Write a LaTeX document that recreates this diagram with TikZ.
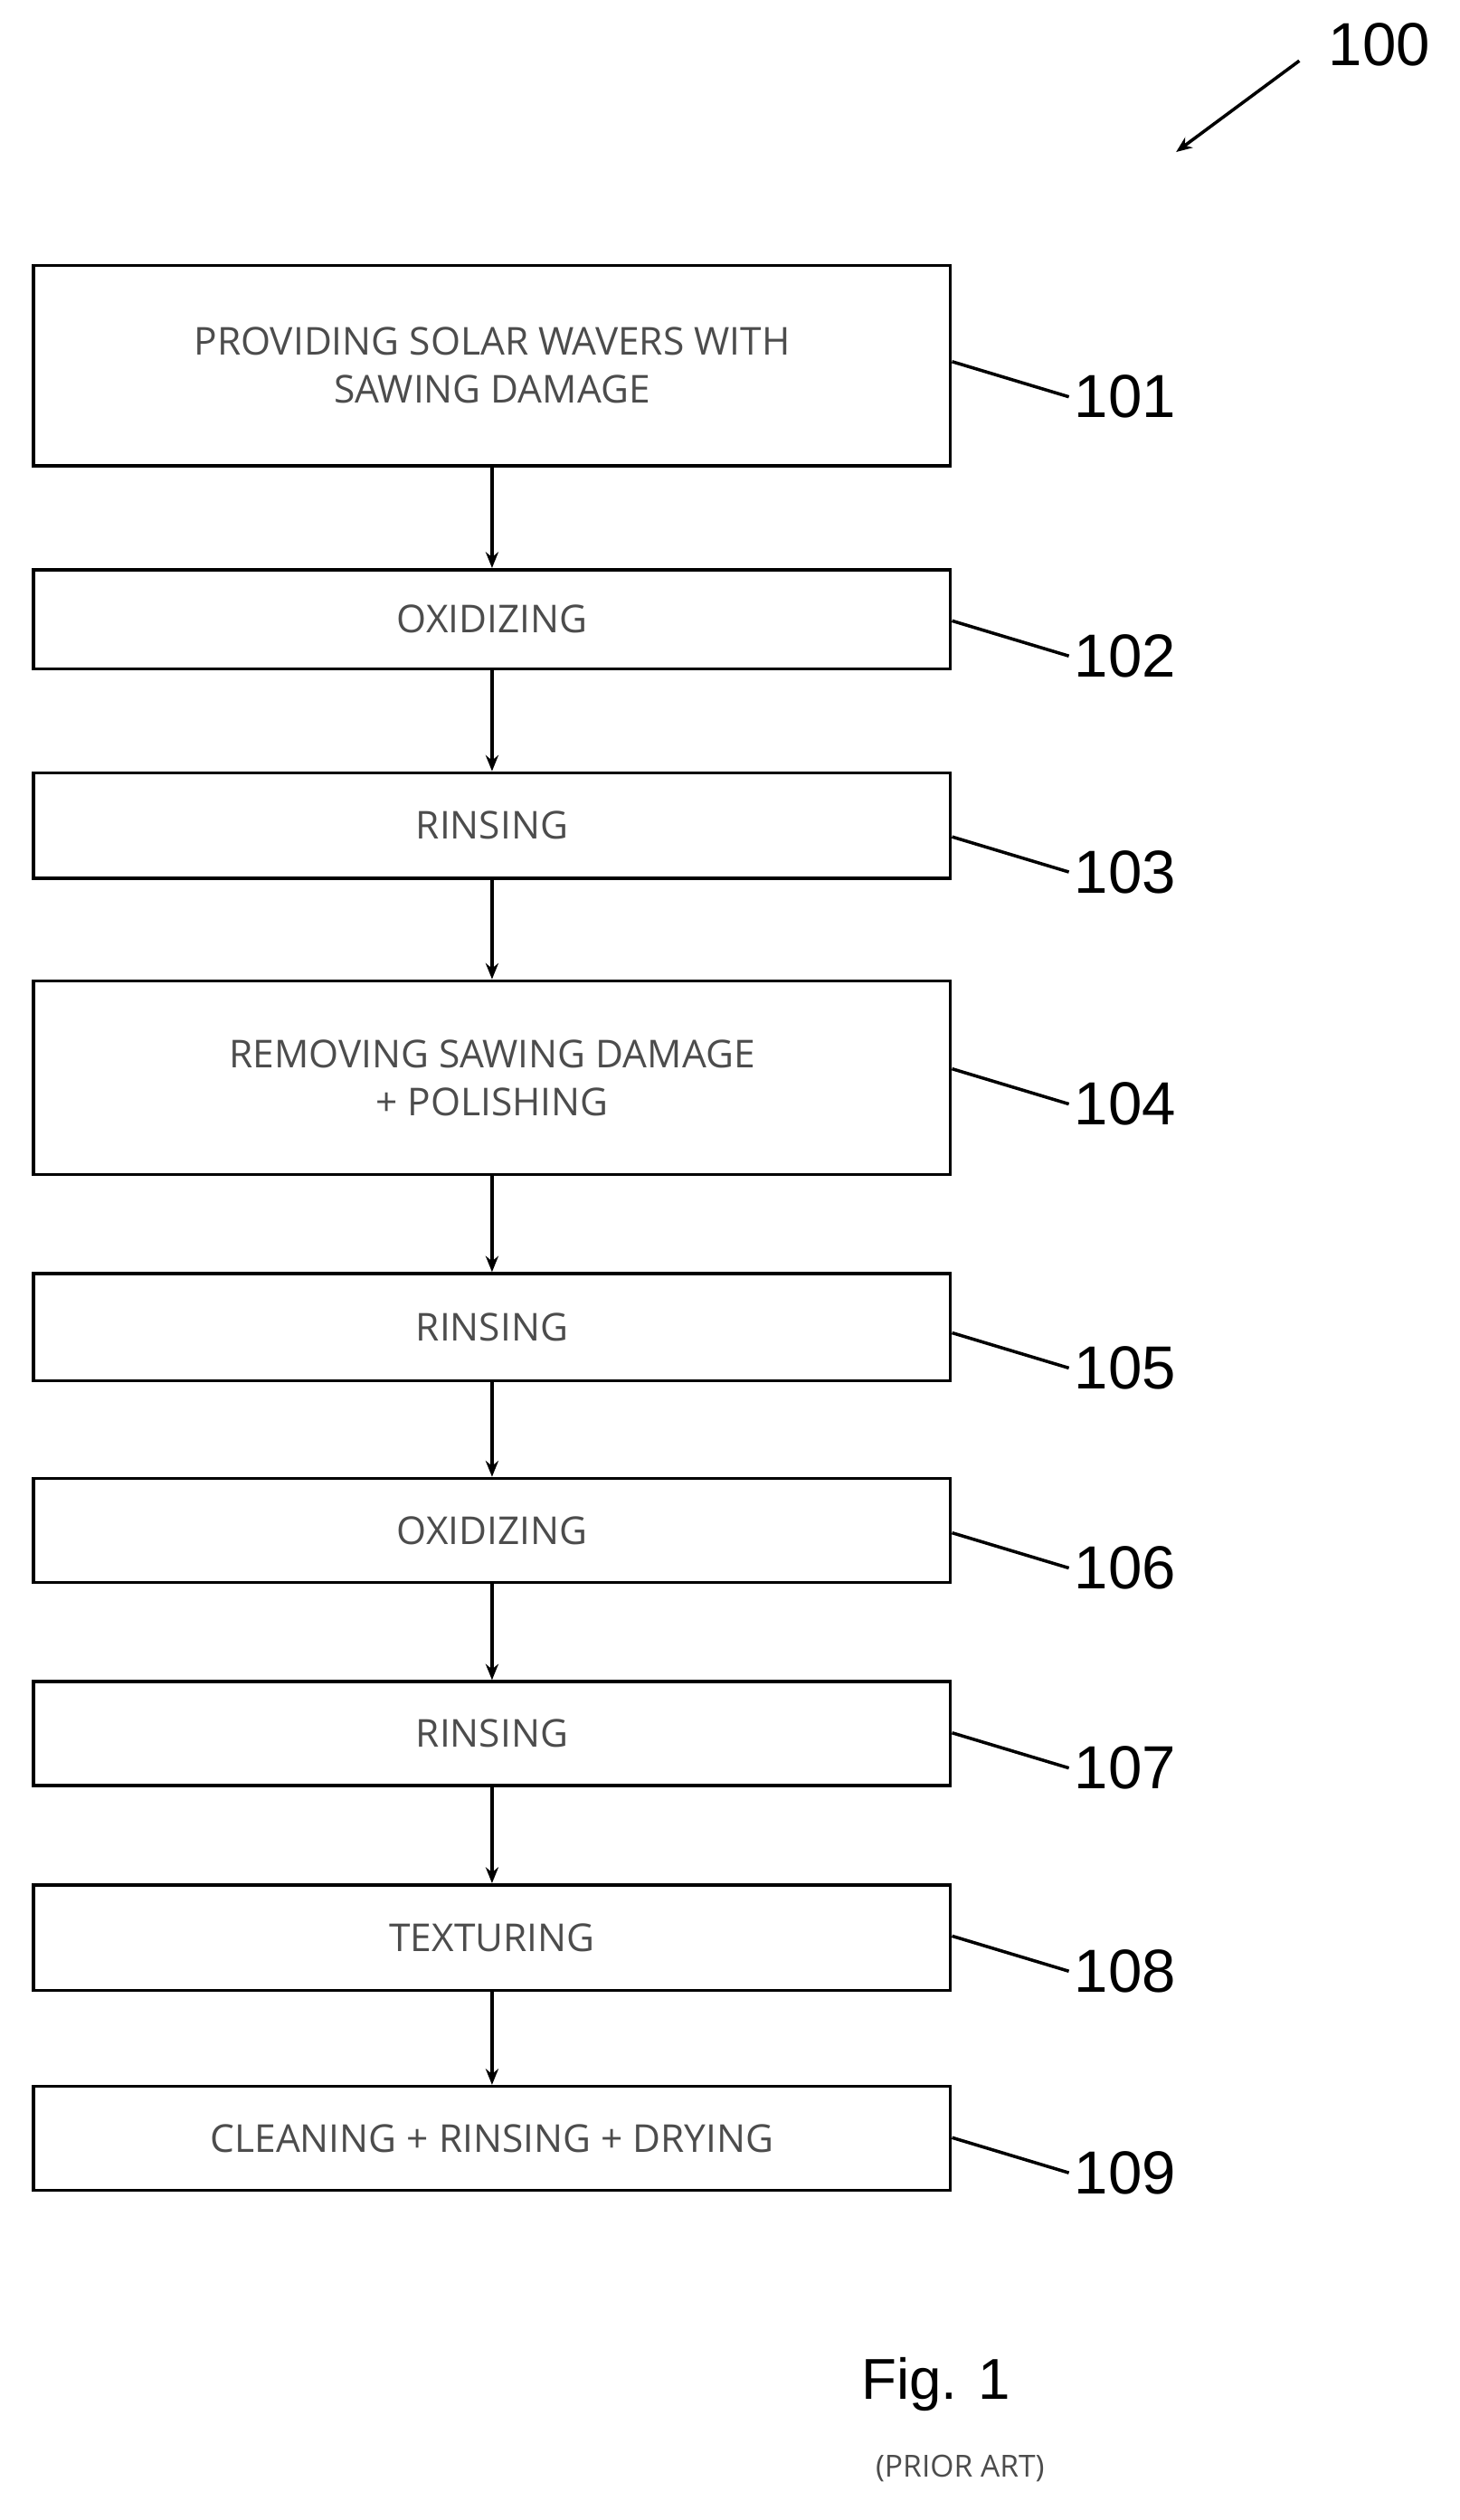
\documentclass[tikz,border=0pt]{standalone}
\usepackage{fontspec}
\setmainfont{Liberation Sans}
\newfontfamily\boxfont{Open Sans}
\usetikzlibrary{arrows.meta}
\begin{document}
\begin{tikzpicture}[x=1pt,y=-1pt,
 box/.style={draw,line width=2pt,minimum width=573pt,anchor=north west,inner sep=0pt,align=center,font=\boxfont\fontsize{24}{30}\selectfont,text=black!70},
 lab/.style={font=\fontsize{38}{40}\selectfont,anchor=west},
 ld/.style={line width=2pt},
 ar/.style={line width=2pt,-{Stealth[length=10pt,width=8pt]}}]
\useasboundingbox (0,0) rectangle (912,1575);
\node[box,minimum height=125pt] (b1) at (20,165) {PROVIDING SOLAR WAVERS WITH\\SAWING DAMAGE};
\node[box,minimum height=62pt] (b2) at (20,355) {OXIDIZING};
\node[box,minimum height=66pt] (b3) at (20,482) {RINSING};
\node[box,minimum height=121pt] (b4) at (20,612) {REMOVING SAWING DAMAGE\\+ POLISHING};
\node[box,minimum height=67pt] (b5) at (20,795) {RINSING};
\node[box,minimum height=65pt] (b6) at (20,923) {OXIDIZING};
\node[box,minimum height=65pt] (b7) at (20,1050) {RINSING};
\node[box,minimum height=66pt] (b8) at (20,1177) {TEXTURING};
\node[box,minimum height=65pt] (b9) at (20,1303) {CLEANING + RINSING + DRYING};
\foreach \a/\b in {b1/b2,b2/b3,b3/b4,b4/b5,b5/b6,b6/b7,b7/b8,b8/b9}
  \draw[ar] (\a.south) -- (\b.north);
\foreach \n/\y/\t in {1/248/101,2/410/102,3/545/103,4/690/104,5/855/105,6/980/106,7/1105/107,8/1232/108,9/1358/109}{
  \node[lab] (l\n) at (668,\y) {\t};
  \path (l\n.west) ++(0,-22) coordinate (s\n);
  \draw[ld] (b\n.east |- s\n) -- (l\n.west);
}
\node[lab,anchor=center] (l0) at (862,28) {100};
\coordinate (t0) at (735,95);
\draw[ar] (812,38) -- (t0);
\node[font=\fontsize{36}{38}\selectfont] (fig) at (585,1490) {Fig. 1};
\node[font=\boxfont\fontsize{19}{22}\selectfont,text=black!70] (pa) at (600,1543) {(PRIOR ART)};
\end{tikzpicture}
\end{document}
